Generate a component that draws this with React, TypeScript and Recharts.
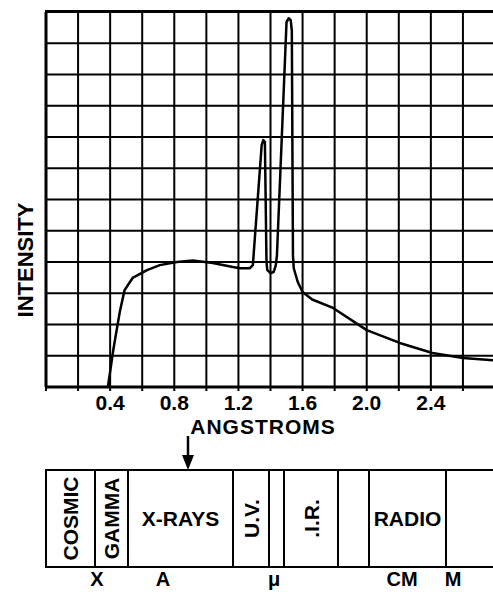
import { LineChart, Line, XAxis, YAxis, CartesianGrid, BarChart, Bar, LabelList } from 'recharts';

// wavelength (angstroms) of each traced point
const wavelength = [
  0.386, 0.42, 0.46, 0.49, 0.54, 0.63, 0.71, 0.816, 0.916, 1.04, 1.165, 1.21, 1.27,
  1.29, 1.345, 1.355, 1.365, 1.375, 1.38, 1.4, 1.42, 1.433, 1.44,
  1.5, 1.514, 1.526, 1.533, 1.54, 1.545, 1.57, 1.6, 1.66, 1.79, 2.0, 2.206, 2.41, 2.6, 2.8,
];
// intensity in grid units
const intensity = [
  0, 1.2, 2.4, 3.1, 3.49, 3.74, 3.9, 4.0, 4.05, 3.97, 3.84, 3.8, 3.8,
  3.9, 7.74, 7.9, 7.84, 4.0, 3.74, 3.65, 3.68, 3.9, 4.2,
  11.68, 11.8, 11.74, 11.4, 4.22, 3.8, 3.36, 3.04, 2.8, 2.53, 1.82, 1.41, 1.09, 0.93, 0.85,
];

const gridX = [0, 0.2, 0.4, 0.6, 0.8, 1.0, 1.2, 1.4, 1.6, 1.8, 2.0, 2.2, 2.4, 2.6, 2.8];
const labelledX = [0.4, 0.8, 1.2, 1.6, 2.0, 2.4];
const gridY = [0, 1, 2, 3, 4, 5, 6, 7, 8, 9, 10, 11, 12];

// spectrum band strip
const bandNames = ['COSMIC', 'GAMMA', 'X-RAYS', 'U.V.', '', '.I.R.', '', 'RADIO', ''];
const bandWidths = [49, 33, 105, 36, 15, 54, 31, 77, 49];
const bandRotated = [true, true, false, true, false, true, false, false, false];
const unitTicks = [51, 117, 228, 356, 407];
const unitLabels = ['X', 'A', 'μ', 'CM', 'M'];

const curve = wavelength.map((x, i) => ({ x, y: intensity[i] }));

const bandRow: Record<string, any> = { row: 'spectrum' };
bandWidths.forEach((w, i) => {
  bandRow['b' + i] = w;
});

const font = '"Liberation Sans", Arial, sans-serif';

const BandLabel = (idx: number) => (props: any) => {
  const { x, y, width, height } = props;
  const name = bandNames[idx];
  if (!name) return null;
  const cx = x + width / 2;
  const cy = y + height / 2;
  return (
    <text
      x={cx}
      y={cy}
      textAnchor="middle"
      dominantBaseline="central"
      fontSize={21}
      fontWeight="bold"
      fontFamily={font}
      fill="#000"
      transform={bandRotated[idx] ? `rotate(-90 ${cx} ${cy})` : undefined}
    >
      {name}
    </text>
  );
};

export default function App() {
  return (
    <div style={{ position: 'fixed', left: 0, top: 0, width: 493, height: 592, overflow: 'hidden', background: '#fff', fontFamily: font }}>
      <div style={{ position: 'absolute', left: 0, top: 0 }}>
        <LineChart width={495} height={440} data={curve} margin={{ top: 12, right: 0, left: 0, bottom: 0 }}>
          <CartesianGrid stroke="#000" strokeWidth={2} />
          <XAxis
            dataKey="x"
            type="number"
            domain={[0, 2.8]}
            ticks={gridX}
            interval={0}
            height={53}
            tickSize={4}
            tickMargin={4}
            stroke="#000"
            axisLine={{ stroke: '#000', strokeWidth: 3 }}
            tickLine={{ stroke: '#000', strokeWidth: 2 }}
            tick={{ fill: '#000', fontSize: 21, fontWeight: 'bold', fontFamily: font }}
            tickFormatter={(v: number) => (labelledX.includes(v) ? v.toFixed(1) : '')}
            label={{
              content: () => (
                <text x={263} y={426} textAnchor="middle" dominantBaseline="central" fontSize={21} fontWeight="bold" fontFamily={font} letterSpacing={1} fill="#000">
                  ANGSTROMS
                </text>
              ),
            }}
          />
          <YAxis
            type="number"
            domain={[0, 12]}
            ticks={gridY}
            interval={0}
            width={46}
            tickLine={false}
            tickFormatter={() => ''}
            axisLine={{ stroke: '#000', strokeWidth: 3 }}
            label={{
              content: () => (
                <text x={25} y={260} textAnchor="middle" dominantBaseline="central" fontSize={22} fontWeight="bold" fontFamily={font} fill="#000" transform="rotate(-90 25 260)">
                  INTENSITY
                </text>
              ),
            }}
          />
          <Line
            type="linear"
            dataKey="y"
            stroke="#000"
            strokeWidth={2.5}
            strokeLinejoin="round"
            dot={false}
            isAnimationActive={false}
          />
        </LineChart>
      </div>

      {/* top frame of the plot */}
      <div style={{ position: 'absolute', left: 45, top: 10, width: 460, height: 3, background: '#000' }} />

      <svg style={{ position: 'absolute', left: 180, top: 436 }} width={16} height={36}>
        <line x1={8} y1={0} x2={8} y2={24} stroke="#000" strokeWidth={2.5} />
        <polygon points="2,19 14,19 8,34" fill="#000" />
      </svg>

      <div style={{ position: 'absolute', left: 0, top: 430 }}>
        <BarChart width={495} height={162} layout="vertical" data={[bandRow]} barCategoryGap={0} margin={{ top: 40, right: 0, left: 46, bottom: 0 }}>
          <XAxis
            type="number"
            domain={[0, 449]}
            ticks={unitTicks}
            interval={0}
            height={25}
            axisLine={false}
            tickLine={false}
            tickSize={0}
            tickMargin={5}
            tick={{ fill: '#000', fontSize: 20, fontWeight: 'bold', fontFamily: font }}
            tickFormatter={(v: number) => unitLabels[unitTicks.indexOf(v)]}
          />
          <YAxis type="category" dataKey="row" hide />
          {bandWidths.map((_, i) => (
            <Bar key={i} dataKey={'b' + i} stackId="s" fill="#fff" stroke="#000" strokeWidth={2} isAnimationActive={false}>
              <LabelList dataKey={'b' + i} content={BandLabel(i)} />
            </Bar>
          ))}
        </BarChart>
      </div>
    </div>
  );
}
